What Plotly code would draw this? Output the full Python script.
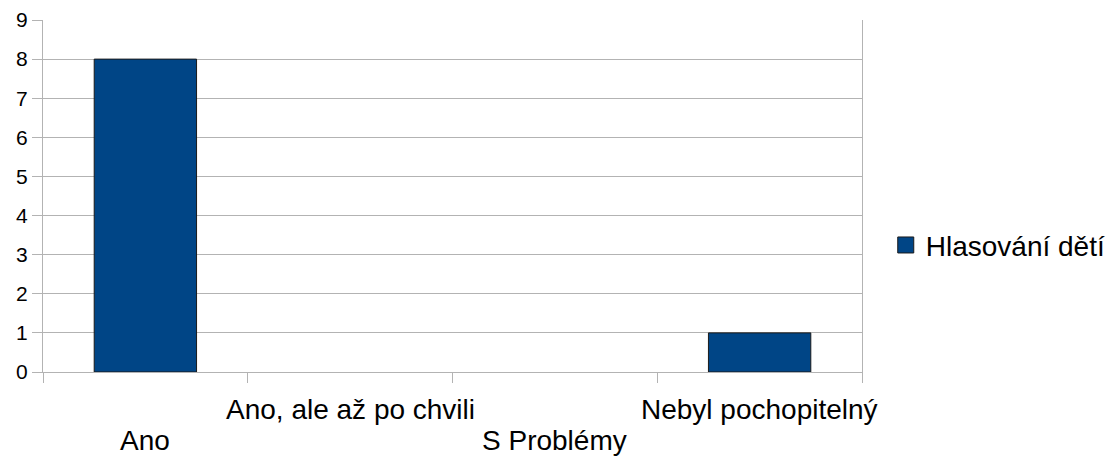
import plotly.graph_objects as go

categories = ["Ano", "Ano, ale až po chvili", "S Problémy", "Nebyl pochopitelný"]
values = [8, 0, 0, 1]
series_name = "Hlasování dětí"
y_ticks = list(range(0, 10))

bar_color = "#004586"
grid_color = "#b3b3b3"
font_family = "Liberation Sans, Arial, sans-serif"

positions = list(range(len(categories)))

fig = go.Figure()
fig.add_trace(go.Bar(
    x=positions,
    y=values,
    width=0.5,
    # no outline on empty bars
    marker=dict(color=bar_color,
                line=dict(color="#1a1a1a", width=[1 if v else 0 for v in values])),
    showlegend=False,
))
# legend entry (square marker so the key is larger)
fig.add_trace(go.Scatter(
    x=[None], y=[None],
    mode="markers",
    name=series_name,
    marker=dict(symbol="square", size=20, color=bar_color,
                line=dict(color="#1a1a1a", width=1)),
))

# staggered category labels
for i, cat in enumerate(categories):
    fig.add_annotation(
        x=i, y=0, xref="x", yref="paper",
        text=cat, showarrow=False,
        yanchor="middle",
        yshift=-37 if i % 2 == 1 else -68,
        font=dict(size=28, color="black", family=font_family),
    )

fig.update_xaxes(
    range=[-0.5, len(categories) - 0.5],
    tickvals=[p - 0.5 for p in positions] + [len(categories) - 0.5],
    showticklabels=False,
    ticks="outside", ticklen=10, tickcolor=grid_color, tickwidth=1,
    showgrid=False, zeroline=False,
    showline=True, linecolor=grid_color, linewidth=1,
    automargin=False,
)
fig.update_yaxes(
    range=[0, 9],
    tickvals=y_ticks,
    ticks="outside", ticklen=10, tickcolor=grid_color, tickwidth=1,
    showgrid=True, gridcolor=grid_color, gridwidth=1,
    zeroline=False,
    showline=True, linecolor=grid_color, linewidth=1, mirror=True,
    tickfont=dict(size=21, color="black", family=font_family),
    automargin=False,
)

# page body has an 8px margin, so the figure is sized to fit the window
fig.update_layout(
    width=1106, height=451,
    margin=dict(l=35, r=252, t=12, b=87, autoexpand=False),
    plot_bgcolor="white", paper_bgcolor="white",
    font=dict(family=font_family, color="black"),
    legend=dict(
        x=1.029, y=0.36, xanchor="left", yanchor="middle",
        font=dict(size=28, color="black", family=font_family),
        itemsizing="trace",
    ),
)

fig.write_html("out.html")
